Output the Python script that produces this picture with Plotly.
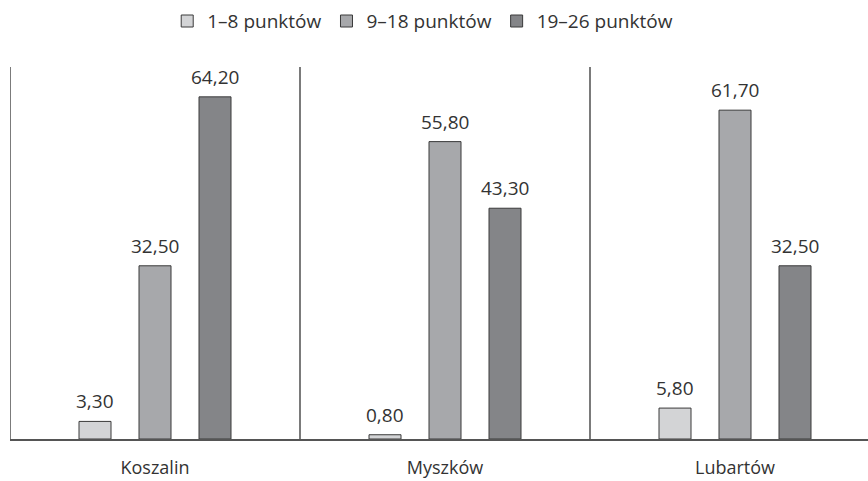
import plotly.graph_objects as go

towns = ["Koszalin", "Myszków", "Lubartów"]
series_names = ["1–8 punktów", "9–18 punktów", "19–26 punktów"]
values = {
    "1–8 punktów": [3.30, 0.80, 5.80],
    "9–18 punktów": [32.50, 55.80, 61.70],
    "19–26 punktów": [64.20, 43.30, 32.50],
}
colors = ["#d3d4d6", "#a7a8ab", "#848588"]

x_pos = list(range(len(towns)))
BAR_W = 32 / 290          # bar width in category units
STEP = 60 / 290           # distance between bars inside a group
offsets = [-STEP, 0.0, STEP]

fig = go.Figure()
for name, col, off in zip(series_names, colors, offsets):
    vals = values[name]
    xs = [x + off for x in x_pos]
    fig.add_trace(go.Bar(
        x=xs, y=vals, name=name, width=BAR_W,
        marker=dict(color=col, line=dict(color="#3a3a3a", width=1)),
    ))
    # value labels above bars
    for xv, v in zip(xs, vals):
        fig.add_annotation(x=xv, y=v, text=f"{v:.2f}".replace(".", ","),
                           showarrow=False, yanchor="bottom", yshift=5,
                           font=dict(size=19, color="#333333"))

# separators between town groups
for b in [-0.5, 0.5, 1.5]:
    fig.add_shape(type="line", xref="x", yref="paper", x0=b, x1=b, y0=0, y1=1,
                  line=dict(color="#222222", width=1.2))

fig.update_layout(
    width=868, height=481,
    margin=dict(l=10, r=0, t=67, b=42, autoexpand=False),
    paper_bgcolor="white", plot_bgcolor="white",
    font=dict(family="Open Sans", size=16, color="#333333"),
    barmode="overlay",
    showlegend=True,
    legend=dict(orientation="h", x=0.487, xanchor="center", xref="container",
                y=0.956, yanchor="middle", yref="container",
                font=dict(size=19), itemwidth=30, traceorder="normal"),
    xaxis=dict(range=[-0.5, -0.5 + 858 / 290], tickvals=x_pos, ticktext=towns,
               showgrid=False, zeroline=False, showline=True, linecolor="#555555",
               linewidth=1.5, ticks="outside", ticklen=12,
               tickcolor="rgba(0,0,0,0)", tickfont=dict(size=18)),
    yaxis=dict(range=[0, 69.8], visible=False, showgrid=False, zeroline=False),
)

fig.write_html("out.html")
